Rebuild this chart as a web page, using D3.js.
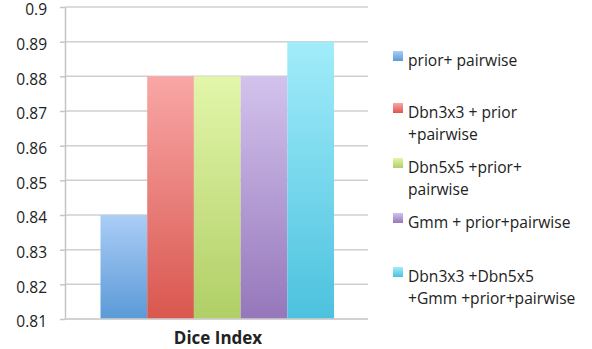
<!DOCTYPE html>
<html>
<head>
<meta charset="utf-8">
<script src="https://cdn.jsdelivr.net/npm/d3@7"></script>
<style>
  html, body { margin: 0; padding: 0; background: #fff; }
  svg { display: block; }
  text { font-family: "Open Sans", "Noto Sans", sans-serif; fill: #222; }
</style>
</head>
<body>
<svg id="chart" width="592" height="349"></svg>
<script>
// Dice index per method
const methods = [
  "prior+ pairwise",
  "Dbn3x3 + prior +pairwise",
  "Dbn5x5 +prior+ pairwise",
  "Gmm + prior+pairwise",
  "Dbn3x3 +Dbn5x5 +Gmm +prior+pairwise"
];
const diceValues = [0.84, 0.88, 0.88, 0.88, 0.89];
// Legend labels as wrapped lines
const legendLines = [
  ["prior+ pairwise"],
  ["Dbn3x3 + prior", "+pairwise"],
  ["Dbn5x5 +prior+", "pairwise"],
  ["Gmm + prior+pairwise"],
  ["Dbn3x3 +Dbn5x5", "+Gmm +prior+pairwise"]
];
const yTicks = [0.81, 0.82, 0.83, 0.84, 0.85, 0.86, 0.87, 0.88, 0.89, 0.9];
const categoryLabel = "Dice Index";
// top / bottom gradient colours for each bar
const colorTop = ["#abcdf6", "#f9a7a6", "#e3f6aa", "#d3c2ed", "#a2ecfa"];
const colorBottom = ["#5a9ad7", "#d9574f", "#b0cf66", "#9577ba", "#4cc2de"];

const svg = d3.select("#chart");
const plot = { left: 65, right: 368, top: 7, bottom: 319 };

const y = d3.scaleLinear().domain([0.81, 0.9]).range([plot.bottom, plot.top]);
const x = d3.scaleBand().domain(methods).range([100.5, 334]).padding(0);

const defs = svg.append("defs");
methods.forEach((m, i) => {
  const g = defs.append("linearGradient")
    .attr("id", "grad" + i)
    .attr("x1", 0).attr("y1", 0).attr("x2", 0).attr("y2", 1);
  g.append("stop").attr("offset", "0%").attr("stop-color", colorTop[i]);
  g.append("stop").attr("offset", "100%").attr("stop-color", colorBottom[i]);
});

// gridlines
svg.append("g")
  .selectAll("line")
  .data(yTicks)
  .join("line")
  .attr("x1", plot.left).attr("x2", plot.right)
  .attr("y1", d => y(d)).attr("y2", d => y(d))
  .attr("stroke", "#cfcfcf")
  .attr("stroke-width", 1.5);

// y axis
const yAxis = d3.axisLeft(y)
  .tickValues(yTicks)
  .tickFormat(d => d3.format("")(+d.toFixed(2)))
  .tickSize(5)
  .tickSizeOuter(0)
  .tickPadding(13);
const ya = svg.append("g")
  .attr("transform", `translate(${plot.left},0)`)
  .call(yAxis);
ya.select(".domain").attr("stroke", "#c4c4c4").attr("stroke-width", 1.5);
ya.selectAll(".tick line").attr("stroke", "#c4c4c4").attr("stroke-width", 1.5);
ya.selectAll(".tick text")
  .attr("font-size", 15.5)
  .attr("font-family", "'Open Sans', sans-serif")
  .attr("fill", "#222")
  .attr("y", 3);

// bars
svg.append("g")
  .selectAll("rect")
  .data(diceValues)
  .join("rect")
  .attr("x", (d, i) => x(methods[i]))
  .attr("width", x.bandwidth())
  .attr("y", d => y(d))
  .attr("height", d => y(0.81) - y(d))
  .attr("fill", (d, i) => `url(#grad${i})`);

// baseline
svg.append("line")
  .attr("x1", plot.left).attr("x2", plot.right)
  .attr("y1", y(0.81)).attr("y2", y(0.81))
  .attr("stroke", "#cfcfcf").attr("stroke-width", 1.5);

// category label
svg.append("text")
  .attr("x", (plot.left + plot.right) / 2 + 1.5)
  .attr("y", 344)
  .attr("text-anchor", "middle")
  .attr("font-size", 17)
  .attr("font-weight", "bold")
  .text(categoryLabel);

// legend
const legendY = [61, 113, 168, 223, 277];
const legend = svg.append("g");
legendLines.forEach((lines, i) => {
  const g = legend.append("g").attr("transform", `translate(393,${legendY[i]})`);
  g.append("rect")
    .attr("x", 0).attr("y", -10)
    .attr("width", 10).attr("height", 10)
    .attr("fill", `url(#grad${i})`);
  const t = g.append("text")
    .attr("x", 15).attr("y", 0)
    .attr("font-size", 15.6);
  lines.forEach((ln, j) => {
    t.append("tspan").attr("x", 15).attr("dy", j === 0 ? 5 : 22).text(ln);
  });
});
</script>
</body>
</html>
